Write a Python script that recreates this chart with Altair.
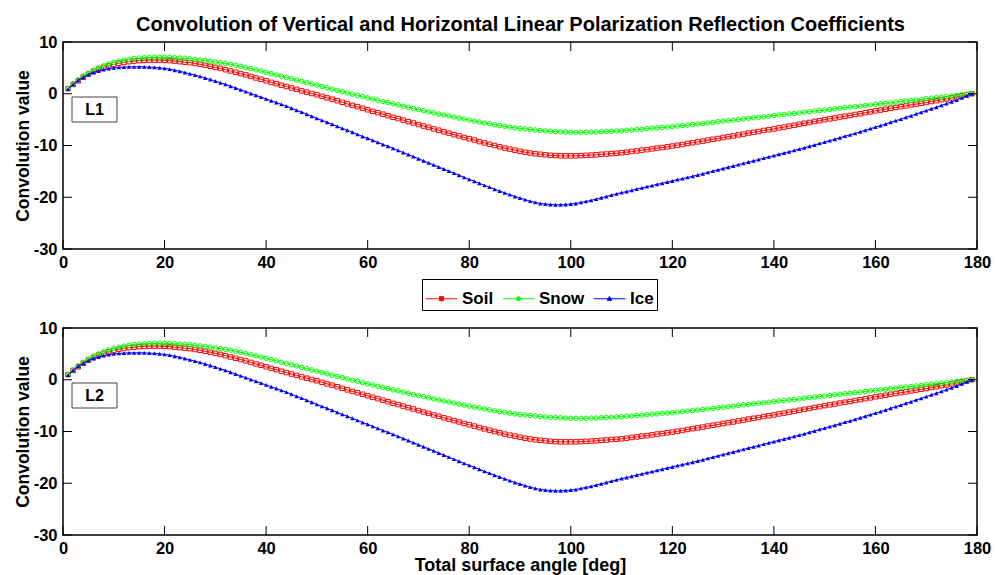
import altair as alt
import pandas as pd

angles = list(range(1, 180))
series_names = ["Soil", "Snow", "Ice"]
series_colors = ["#ff0000", "#00ff00", "#0000ff"]
x_ticks = [0, 20, 40, 60, 80, 100, 120, 140, 160, 180]
y_ticks = [-30, -20, -10, 0, 10]
panel_labels = ["L1", "L2"]

soil = [
    1.0, 1.8, 2.5, 3.2, 3.8, 4.3, 4.75, 5.1, 5.4, 5.65,
    5.9, 6.05, 6.2, 6.3, 6.4, 6.45, 6.5, 6.5, 6.5, 6.45,
    6.4, 6.3, 6.2, 6.1, 6.0, 5.85, 5.7, 5.5, 5.3, 5.1,
    4.9, 4.65, 4.4, 4.15, 3.9, 3.65, 3.35, 3.05, 2.8, 2.5,
    2.2, 1.95, 1.65, 1.4, 1.1, 0.85, 0.55, 0.3, 0.05, -0.2,
    -0.5, -0.8, -1.05, -1.35, -1.65, -1.95, -2.25, -2.5, -2.8, -3.1,
    -3.4, -3.65, -3.95, -4.25, -4.55, -4.8, -5.1, -5.4, -5.65, -5.95,
    -6.25, -6.5, -6.8, -7.05, -7.35, -7.6, -7.9, -8.15, -8.45, -8.7,
    -8.95, -9.25, -9.5, -9.75, -10.0, -10.25, -10.5, -10.7, -10.9, -11.1,
    -11.3, -11.45, -11.6, -11.7, -11.8, -11.9, -11.95, -12.0, -12.0, -12.0,
    -12.0, -11.95, -11.9, -11.85, -11.8, -11.7, -11.65, -11.55, -11.5, -11.4,
    -11.3, -11.15, -11.05, -10.9, -10.8, -10.65, -10.5, -10.4, -10.25, -10.1,
    -9.95, -9.8, -9.6, -9.45, -9.3, -9.15, -8.95, -8.8, -8.65, -8.45,
    -8.3, -8.15, -7.95, -7.8, -7.6, -7.45, -7.3, -7.1, -6.95, -6.8,
    -6.6, -6.45, -6.25, -6.1, -5.9, -5.7, -5.55, -5.35, -5.2, -5.0,
    -4.85, -4.7, -4.5, -4.35, -4.2, -4.0, -3.85, -3.65, -3.5, -3.3,
    -3.15, -3.0, -2.8, -2.65, -2.5, -2.35, -2.15, -2.0, -1.85, -1.7,
    -1.5, -1.35, -1.15, -1.0, -0.8, -0.6, -0.4, -0.2, 0.0,
]

snow = [
    1.0, 1.9, 2.7, 3.4, 4.0, 4.6, 5.0, 5.4, 5.75, 6.05,
    6.3, 6.5, 6.65, 6.8, 6.9, 6.95, 7.0, 7.05, 7.05, 7.05,
    7.0, 6.95, 6.9, 6.85, 6.75, 6.65, 6.55, 6.45, 6.3, 6.15,
    6.0, 5.85, 5.7, 5.5, 5.3, 5.05, 4.85, 4.6, 4.4, 4.15,
    3.9, 3.65, 3.4, 3.15, 2.9, 2.65, 2.4, 2.15, 1.9, 1.65,
    1.4, 1.15, 0.9, 0.65, 0.4, 0.15, -0.1, -0.3, -0.55, -0.8,
    -1.0, -1.25, -1.5, -1.7, -1.95, -2.15, -2.4, -2.6, -2.85, -3.05,
    -3.25, -3.5, -3.7, -3.9, -4.1, -4.3, -4.5, -4.7, -4.9, -5.1,
    -5.3, -5.45, -5.65, -5.8, -6.0, -6.15, -6.3, -6.45, -6.6, -6.7,
    -6.8, -6.9, -7.0, -7.1, -7.2, -7.25, -7.3, -7.35, -7.4, -7.45,
    -7.45, -7.45, -7.45, -7.4, -7.4, -7.35, -7.3, -7.25, -7.2, -7.15,
    -7.05, -7.0, -6.9, -6.85, -6.75, -6.65, -6.6, -6.5, -6.45, -6.35,
    -6.25, -6.15, -6.05, -5.95, -5.85, -5.75, -5.65, -5.55, -5.4, -5.3,
    -5.2, -5.1, -5.0, -4.85, -4.75, -4.65, -4.55, -4.45, -4.35, -4.2,
    -4.1, -4.0, -3.9, -3.8, -3.7, -3.55, -3.45, -3.35, -3.25, -3.15,
    -3.05, -2.9, -2.8, -2.7, -2.6, -2.5, -2.4, -2.25, -2.15, -2.05,
    -1.95, -1.85, -1.75, -1.6, -1.5, -1.4, -1.3, -1.2, -1.1, -0.95,
    -0.85, -0.75, -0.65, -0.55, -0.45, -0.3, -0.2, -0.1, 0.0,
]

ice = [
    0.9, 1.8, 2.6, 3.2, 3.7, 4.1, 4.4, 4.65, 4.85, 5.0,
    5.1, 5.15, 5.2, 5.2, 5.2, 5.2, 5.15, 5.1, 5.0, 4.9,
    4.75, 4.55, 4.35, 4.1, 3.85, 3.6, 3.35, 3.05, 2.75, 2.45,
    2.1, 1.8, 1.45, 1.1, 0.75, 0.4, 0.05, -0.3, -0.65, -1.0,
    -1.35, -1.7, -2.05, -2.4, -2.8, -3.2, -3.55, -3.95, -4.35, -4.75,
    -5.15, -5.5, -5.9, -6.3, -6.7, -7.05, -7.45, -7.85, -8.25, -8.6,
    -9.0, -9.4, -9.8, -10.15, -10.55, -10.95, -11.35, -11.75, -12.15, -12.55,
    -12.95, -13.35, -13.75, -14.15, -14.55, -14.95, -15.35, -15.75, -16.15, -16.55,
    -16.9, -17.3, -17.7, -18.05, -18.45, -18.8, -19.15, -19.5, -19.85, -20.15,
    -20.45, -20.75, -21.0, -21.2, -21.3, -21.4, -21.45, -21.45, -21.4, -21.3,
    -21.2, -21.0, -20.8, -20.6, -20.35, -20.1, -19.85, -19.6, -19.35, -19.1,
    -18.9, -18.65, -18.4, -18.2, -17.95, -17.75, -17.5, -17.3, -17.05, -16.85,
    -16.6, -16.4, -16.15, -15.95, -15.7, -15.45, -15.2, -14.95, -14.7, -14.45,
    -14.2, -13.95, -13.7, -13.45, -13.2, -12.95, -12.7, -12.45, -12.2, -11.95,
    -11.7, -11.45, -11.2, -10.95, -10.7, -10.45, -10.15, -9.9, -9.6, -9.35,
    -9.05, -8.8, -8.5, -8.2, -7.95, -7.65, -7.35, -7.05, -6.75, -6.45,
    -6.15, -5.85, -5.5, -5.2, -4.9, -4.55, -4.25, -3.9, -3.6, -3.25,
    -2.9, -2.6, -2.25, -1.9, -1.55, -1.2, -0.8, -0.4, 0.0,
]

assert len(soil) == len(snow) == len(ice) == len(angles)

rows = []
for name, vals in zip(series_names, [soil, snow, ice]):
    for a, v in zip(angles, vals):
        rows.append({"angle": a, "value": v, "series": name})
df = pd.DataFrame(rows)

FONT = "Liberation Sans"
W, H = 914, 207
TICK = 9

x_scale = alt.Scale(domain=[0, 180], nice=False, zero=False)
y_scale = alt.Scale(domain=[-30, 10], nice=False, zero=False)
color_scale = alt.Scale(domain=series_names, range=series_colors)

shape_expr = (
    "datum.value === 'Soil' ? 'M-1,0H1M-0.13,-0.13H0.13V0.13H-0.13Z' : "
    "(datum.value === 'Snow' ? 'M-1,0H1M0.13,0A0.13,0.13 0 1,1 -0.13,0A0.13,0.13 0 1,1 0.13,0' : "
    "'M-1,0H1M0,-0.15L0.14,0.1L-0.14,0.1Z')"
)
fill_expr = "datum.value === 'Ice' ? '#0000ff' : 'transparent'"

legend = alt.Legend(
    orient="none", legendX=359, legendY=237, direction="horizontal", title=None,
    labelFont=FONT, labelFontSize=17, labelFontWeight="bold", labelColor="black",
    symbolSize=1000, symbolStrokeWidth=1,
    symbolType=alt.ExprRef(shape_expr),
    symbolFillColor=alt.ExprRef(fill_expr),
    strokeColor="black", fillColor="white", padding=3, columnPadding=6, labelOffset=4,
)

markers = {
    "Soil": dict(shape="square", filled=False, size=20, strokeWidth=1),
    "Snow": dict(shape="circle", filled=False, size=20, strokeWidth=1),
    "Ice": dict(shape="triangle-up", filled=True, size=20, strokeWidth=0.5),
}


def panel(label, bottom, with_legend):
    x_axis = alt.Axis(
        values=x_ticks, ticks=False, tickSize=0, domain=False, grid=False,
        labelFlush=False, labelPadding=5, labelFont=FONT, labelFontSize=16.5,
        labelFontWeight="bold", labelColor="black", labelExpr="'' + datum.value",
        titleFont=FONT, titleFontSize=18, titleFontWeight="bold", titleColor="black",
        titlePadding=0,
    )
    y_axis = alt.Axis(
        values=y_ticks, ticks=False, tickSize=0, domain=False, grid=False,
        labelFlush=False, labelPadding=6, labelFont=FONT, labelFontSize=16.5,
        labelFontWeight="bold", labelColor="black", labelExpr="'' + datum.value",
        titleFont=FONT, titleFontSize=17.5, titleFontWeight="bold", titleColor="black",
        titlePadding=1,
    )
    x_title = "Total surface angle [deg]" if bottom else None
    y_title = "Convolution value"

    def xe(field="angle"):
        return alt.X(field + ":Q", scale=x_scale, axis=x_axis, title=x_title)

    def ye(field="value"):
        return alt.Y(field + ":Q", scale=y_scale, axis=y_axis, title=y_title)

    layers = []
    first = True
    for name in series_names:
        leg = legend if (with_legend and first) else None
        first = False
        base = alt.Chart(df).transform_filter(alt.datum.series == name).encode(
            x=xe(), y=ye(),
            color=alt.Color("series:N", scale=color_scale, legend=leg),
        )
        layers.append(base.mark_line(strokeWidth=1))
        layers.append(base.mark_point(opacity=1, **markers[name]))

    xt = pd.DataFrame({"angle": x_ticks})
    yt = pd.DataFrame({"value": y_ticks})
    tick_style = dict(color="black", strokeWidth=1)
    layers.append(alt.Chart(xt).mark_rule(**tick_style).encode(
        x=xe(), y=alt.value(H), y2=alt.value(H - TICK)))
    layers.append(alt.Chart(xt).mark_rule(**tick_style).encode(
        x=xe(), y=alt.value(0), y2=alt.value(TICK)))
    layers.append(alt.Chart(yt).mark_rule(**tick_style).encode(
        y=ye(), x=alt.value(0), x2=alt.value(TICK)))
    layers.append(alt.Chart(yt).mark_rule(**tick_style).encode(
        y=ye(), x=alt.value(W - TICK), x2=alt.value(W)))

    lab = pd.DataFrame({"label": [label]})
    layers.append(alt.Chart(lab).mark_rect(fill="white", stroke="#444444", strokeWidth=1).encode(
        x=alt.value(9), x2=alt.value(54), y=alt.value(55), y2=alt.value(80)))
    layers.append(alt.Chart(lab).mark_text(font=FONT, fontSize=16, fontWeight="bold",
                                           color="black", align="center", baseline="middle").encode(
        x=alt.value(31.5), y=alt.value(68), text="label:N"))

    return alt.layer(*layers).properties(width=W, height=H)


top = panel(panel_labels[0], bottom=False, with_legend=True)
bot = panel(panel_labels[1], bottom=True, with_legend=False)

chart = alt.vconcat(top, bot, spacing=47).properties(
    title=alt.TitleParams(
        "Convolution of Vertical and Horizontal Linear Polarization Reflection Coefficients",
        font=FONT, fontSize=20, fontWeight="bold", color="black", anchor="middle",
        baseline="bottom", offset=-22, dx=18,
    ),
    padding={"left": 13, "top": 15, "right": 0, "bottom": 0},
).configure(background="white").configure_view(stroke="black", strokeWidth=1.5)

chart.save("out.html", embed_options={"renderer": "svg", "actions": False})
